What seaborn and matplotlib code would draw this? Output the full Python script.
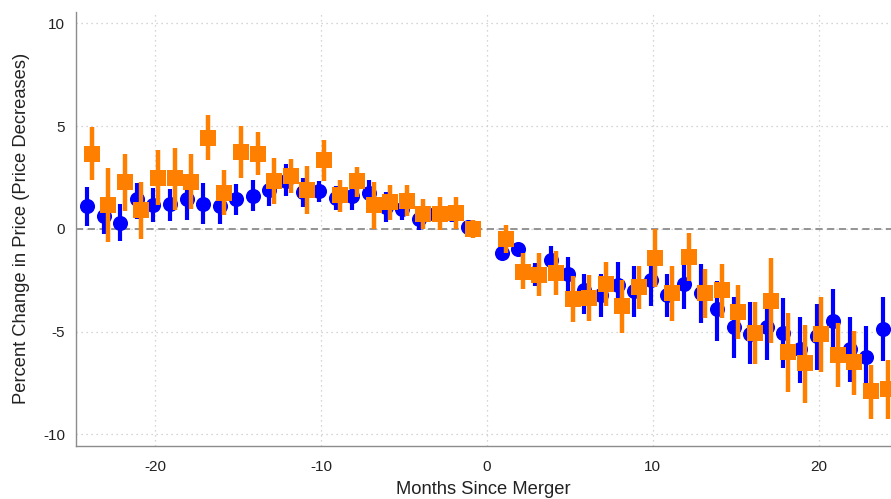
import numpy as np
import pandas as pd
import matplotlib
matplotlib.use("Agg")
import matplotlib.pyplot as plt
import seaborn as sns

# Event-study estimates by month relative to the merger (month 0 omitted)
months = list(range(-24, 0)) + list(range(1, 25))

blue_est = [1.09, 0.64, 0.30, 1.43, 1.17, 1.19, 1.43, 1.20, 1.11, 1.47, 1.59, 1.90,
            2.35, 1.79, 1.84, 1.50, 1.59, 1.76, 1.06, 0.96, 0.49, 0.73, 0.73, 0.10,
            -1.18, -0.99, -2.16, -1.51, -2.19, -2.96, -3.24, -2.73, -3.02, -2.50, -3.21, -2.69,
            -3.13, -3.91, -4.79, -5.10, -4.79, -5.08, -5.86, -5.20, -4.50, -5.83, -6.24, -4.87]
blue_lo = [0.12, -0.23, -0.61, 0.49, 0.33, 0.40, 0.45, 0.22, 0.22, 0.69, 0.85, 1.13,
           1.58, 1.06, 1.30, 0.90, 0.93, 1.17, 0.35, 0.41, -0.05, 0.35, 0.35, -0.10,
           -1.40, -1.20, -2.78, -2.32, -3.15, -4.13, -4.30, -3.78, -4.30, -3.77, -4.27, -3.92,
           -4.59, -5.44, -6.30, -6.58, -6.37, -6.78, -7.50, -6.87, -6.05, -7.45, -7.72, -6.41]
blue_hi = [2.03, 1.38, 1.20, 2.24, 2.00, 1.95, 2.19, 2.24, 1.95, 2.19, 2.39, 2.60,
           3.13, 2.48, 2.35, 2.06, 2.11, 2.38, 1.77, 1.46, 0.90, 1.06, 1.10, 0.30,
           -0.95, -0.80, -1.67, -0.86, -1.35, -2.19, -2.20, -1.64, -1.83, -1.30, -2.20, -1.78,
           -1.72, -2.52, -3.30, -3.56, -3.83, -3.36, -4.30, -3.66, -2.93, -4.27, -4.74, -3.32]

orange_est = [3.65, 1.17, 2.26, 0.90, 2.48, 2.45, 2.29, 4.43, 1.76, 3.76, 3.65, 2.35,
              2.55, 1.90, 3.33, 1.63, 2.32, 1.17, 1.30, 1.33, 0.73, 0.73, 0.76, 0.00,
              -0.50, -2.08, -2.24, -2.16, -3.42, -3.37, -2.70, -3.77, -2.84, -1.44, -3.12, -1.38,
              -3.10, -2.97, -4.05, -5.05, -3.49, -5.98, -6.55, -5.11, -6.16, -6.47, -7.90, -7.80]
orange_lo = [2.39, -0.64, 0.88, -0.50, 1.14, 0.93, 0.96, 3.36, 0.69, 2.48, 2.60, 1.19,
             1.74, 0.70, 2.35, 0.82, 1.54, -0.02, 0.41, 0.60, -0.02, -0.08, -0.02, -0.45,
             -1.18, -2.92, -3.29, -3.24, -4.53, -4.49, -3.78, -5.07, -3.88, -2.83, -4.47, -2.55,
             -4.32, -4.32, -5.35, -6.56, -5.54, -7.92, -8.47, -6.95, -7.70, -8.07, -9.28, -9.27]
orange_hi = [4.94, 2.94, 3.65, 2.30, 3.84, 3.92, 3.65, 5.52, 2.84, 5.02, 4.70, 3.46,
             3.39, 3.07, 4.30, 2.39, 3.00, 2.30, 2.11, 2.11, 1.44, 1.55, 1.56, 0.43,
             0.20, -1.18, -1.18, -1.06, -2.31, -2.27, -1.64, -2.51, -1.80, 0.00, -1.81, -0.22,
             -1.96, -1.69, -2.74, -3.56, -1.43, -4.08, -4.66, -3.32, -4.60, -4.96, -6.65, -6.37]

x_ticks = [-20, -10, 0, 10, 20]
y_ticks = [-10, -5, 0, 5, 10]

BLUE = "#0000ff"
ORANGE = "#ff8000"

sns.set_style("white")
plt.rcParams["font.family"] = ["Liberation Sans", "DejaVu Sans"]
plt.rcParams["axes.unicode_minus"] = False

blue_df = pd.DataFrame({"month": np.array(months) - 0.12, "est": blue_est,
                        "lo": blue_lo, "hi": blue_hi})
orange_df = pd.DataFrame({"month": np.array(months) + 0.16, "est": orange_est,
                          "lo": orange_lo, "hi": orange_hi})

fig = plt.figure(figsize=(8.91, 4.99), dpi=100)
ax = fig.add_axes([76 / 891, 1 - 446 / 499, 1 - 76 / 891, (446 - 11.6) / 499])

# grid and reference line
for t in x_ticks:
    ax.axvline(t, color="#c8c8c8", lw=0.9, ls=(0, (1, 3)), zorder=0)
for t in y_ticks:
    ax.axhline(t, color="#c8c8c8", lw=0.9, ls=(0, (1, 3)), zorder=0)
ax.axhline(0, color="#8c8c8c", lw=1.3, ls=(0, (4, 2.5)), zorder=1)

# blue series: confidence bars then circles
ax.vlines(blue_df["month"], blue_df["lo"], blue_df["hi"], color=BLUE, lw=3.0, zorder=2)
sns.scatterplot(data=blue_df, x="month", y="est", ax=ax, color=BLUE, marker="o",
                s=118, linewidth=0, zorder=3, legend=False)

# orange series: confidence bars then squares
ax.vlines(orange_df["month"], orange_df["lo"], orange_df["hi"], color=ORANGE, lw=3.2, zorder=4)
sns.scatterplot(data=orange_df, x="month", y="est", ax=ax, color=ORANGE, marker="s",
                s=118, linewidth=0, zorder=5, legend=False)

ax.set_xlim(-24.79, 24.37)
ax.set_ylim(-10.57, 10.57)
ax.set_xticks(x_ticks)
ax.set_yticks(y_ticks)
ax.set_xticklabels([str(t) for t in x_ticks])
ax.set_yticklabels([str(t) for t in y_ticks])
ax.tick_params(axis="both", direction="out", length=4, width=0.9, color="#8c8c8c",
               labelsize=11, labelcolor="#222222", pad=4)
ax.tick_params(axis="x", pad=6)

for side in ["top", "right"]:
    ax.spines[side].set_visible(False)
for side in ["left", "bottom"]:
    ax.spines[side].set_color("#8c8c8c")
    ax.spines[side].set_linewidth(1.0)

ax.set_xlabel("Months Since Merger", fontsize=13.2, color="#222222", labelpad=5)
ax.set_ylabel("Percent Change in Price (Price Decreases)", fontsize=13.2,
              color="#222222", labelpad=9)

fig.savefig("out.png", dpi=100)
